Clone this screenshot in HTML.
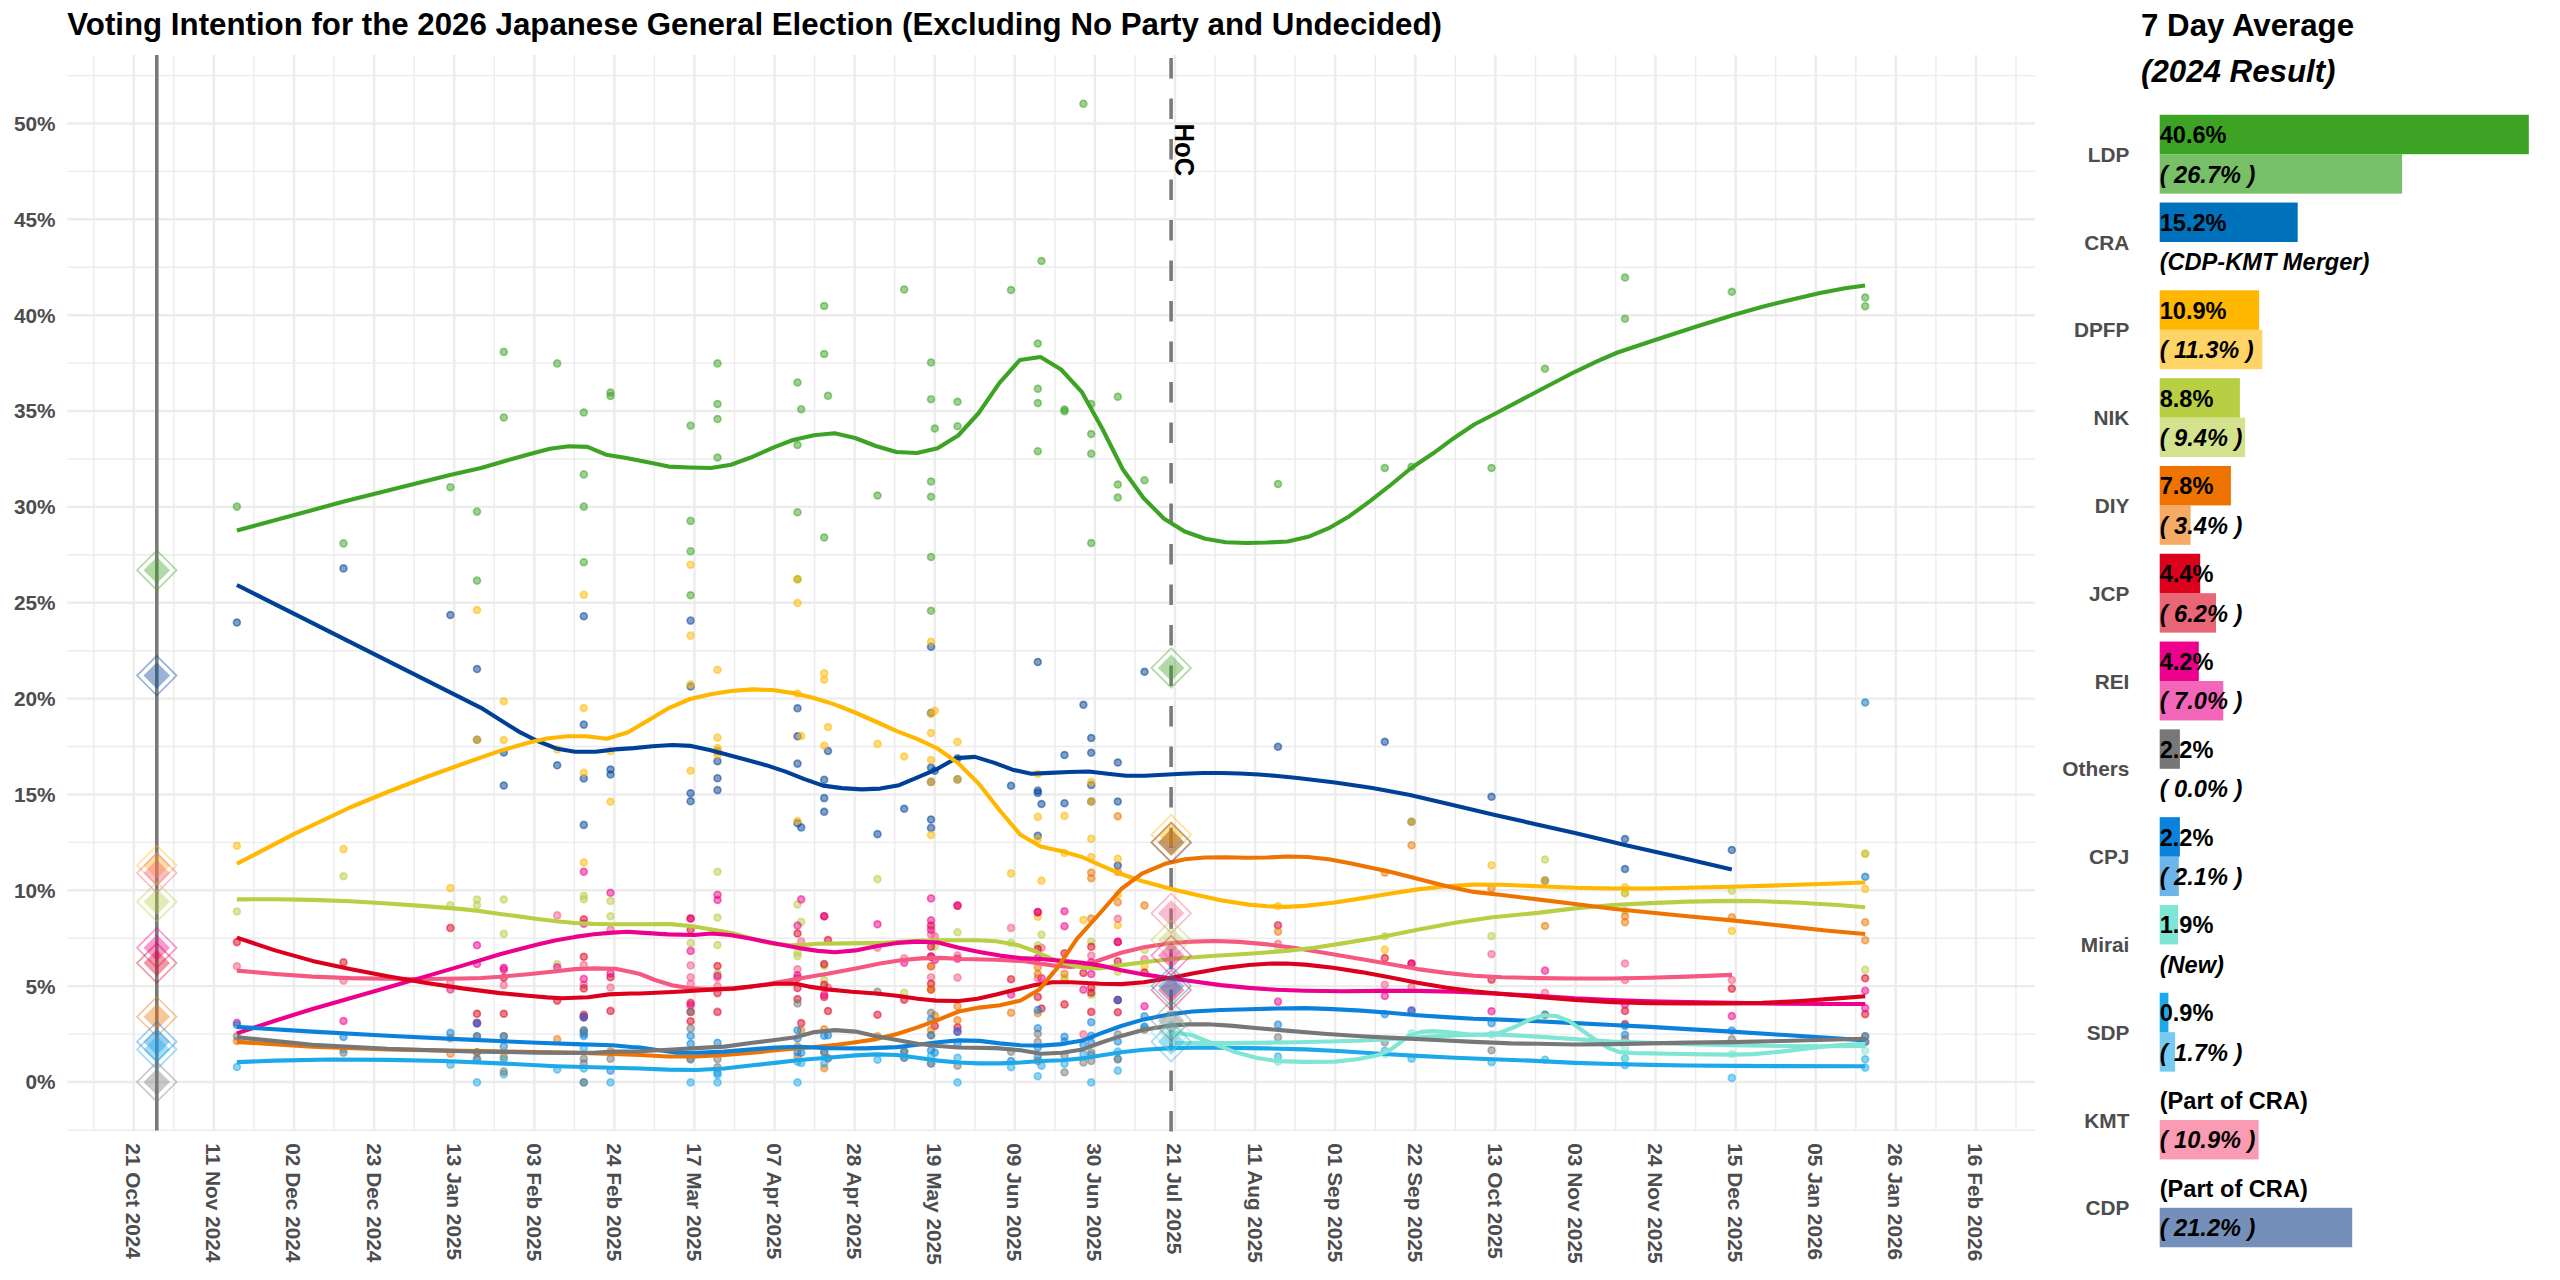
<!DOCTYPE html>
<html lang="en"><head><meta charset="utf-8"><title>Voting Intention for the 2026 Japanese General Election</title>
<style>html,body{margin:0;padding:0;background:#fff}body{width:2560px;height:1280px;overflow:hidden}svg{display:block}</style></head>
<body>
<svg width="2560" height="1280" viewBox="0 0 2560 1280" font-family="'Liberation Sans', Arial, sans-serif" font-weight="bold">
<rect width="2560" height="1280" fill="#fff"/>
<g stroke="#ececec" fill="none">
<g stroke-width="1.4">
<path d="M93.8 55V1130.6"/>
<path d="M173.8 55V1130.6"/>
<path d="M253.9 55V1130.6"/>
<path d="M334.0 55V1130.6"/>
<path d="M414.1 55V1130.6"/>
<path d="M494.2 55V1130.6"/>
<path d="M574.3 55V1130.6"/>
<path d="M654.4 55V1130.6"/>
<path d="M734.5 55V1130.6"/>
<path d="M814.6 55V1130.6"/>
<path d="M894.7 55V1130.6"/>
<path d="M974.8 55V1130.6"/>
<path d="M1054.9 55V1130.6"/>
<path d="M1135.0 55V1130.6"/>
<path d="M1215.1 55V1130.6"/>
<path d="M1295.2 55V1130.6"/>
<path d="M1375.3 55V1130.6"/>
<path d="M1455.4 55V1130.6"/>
<path d="M1535.5 55V1130.6"/>
<path d="M1615.6 55V1130.6"/>
<path d="M1695.7 55V1130.6"/>
<path d="M1775.7 55V1130.6"/>
<path d="M1855.8 55V1130.6"/>
<path d="M1935.9 55V1130.6"/>
<path d="M2016.0 55V1130.6"/>
<path d="M67.3 1130.3H2035"/>
<path d="M67.3 1034.1H2035"/>
<path d="M67.3 938.2H2035"/>
<path d="M67.3 842.4H2035"/>
<path d="M67.3 746.5H2035"/>
<path d="M67.3 650.7H2035"/>
<path d="M67.3 554.8H2035"/>
<path d="M67.3 459.0H2035"/>
<path d="M67.3 363.1H2035"/>
<path d="M67.3 267.3H2035"/>
<path d="M67.3 171.4H2035"/>
<path d="M67.3 75.6H2035"/>
</g><g stroke-width="2.4">
<path d="M133.8 55V1130.6"/>
<path d="M213.9 55V1130.6"/>
<path d="M294.0 55V1130.6"/>
<path d="M374.1 55V1130.6"/>
<path d="M454.2 55V1130.6"/>
<path d="M534.3 55V1130.6"/>
<path d="M614.4 55V1130.6"/>
<path d="M694.5 55V1130.6"/>
<path d="M774.6 55V1130.6"/>
<path d="M854.7 55V1130.6"/>
<path d="M934.8 55V1130.6"/>
<path d="M1014.8 55V1130.6"/>
<path d="M1094.9 55V1130.6"/>
<path d="M1175.0 55V1130.6"/>
<path d="M1255.1 55V1130.6"/>
<path d="M1335.2 55V1130.6"/>
<path d="M1415.3 55V1130.6"/>
<path d="M1495.4 55V1130.6"/>
<path d="M1575.5 55V1130.6"/>
<path d="M1655.6 55V1130.6"/>
<path d="M1735.7 55V1130.6"/>
<path d="M1815.8 55V1130.6"/>
<path d="M1895.9 55V1130.6"/>
<path d="M1976.0 55V1130.6"/>
<path d="M67.3 1082.0H2035"/>
<path d="M67.3 986.1H2035"/>
<path d="M67.3 890.3H2035"/>
<path d="M67.3 794.5H2035"/>
<path d="M67.3 698.6H2035"/>
<path d="M67.3 602.8H2035"/>
<path d="M67.3 506.9H2035"/>
<path d="M67.3 411.0H2035"/>
<path d="M67.3 315.2H2035"/>
<path d="M67.3 219.3H2035"/>
<path d="M67.3 123.5H2035"/>
</g></g>
<path d="M156.8 55V1130.6" stroke="#7a7a7a" stroke-width="3.6" fill="none"/>
<path d="M1171.1 1131.6V55" stroke="#7a7a7a" stroke-width="3.6" stroke-dasharray="20.5 20" fill="none"/>
<g stroke-width="1.7">
<g fill="#3CA324" stroke="#3CA324" fill-opacity="0.5" stroke-opacity="0.5">
<circle cx="236.9" cy="506.6" r="3.45"/>
<circle cx="343.5" cy="543.4" r="3.45"/>
<circle cx="450.4" cy="487.2" r="3.45"/>
<circle cx="477.0" cy="511.6" r="3.45"/>
<circle cx="477.0" cy="580.6" r="3.45"/>
<circle cx="503.8" cy="351.9" r="3.45"/>
<circle cx="503.8" cy="417.5" r="3.45"/>
<circle cx="557.2" cy="363.4" r="3.45"/>
<circle cx="583.8" cy="412.5" r="3.45"/>
<circle cx="583.8" cy="474.4" r="3.45"/>
<circle cx="583.8" cy="506.6" r="3.45"/>
<circle cx="583.8" cy="562.2" r="3.45"/>
<circle cx="610.5" cy="392.5" r="3.45"/>
<circle cx="610.5" cy="396.0" r="3.45"/>
<circle cx="690.6" cy="425.6" r="3.45"/>
<circle cx="690.6" cy="520.9" r="3.45"/>
<circle cx="690.6" cy="551.2" r="3.45"/>
<circle cx="690.6" cy="595.3" r="3.45"/>
<circle cx="717.5" cy="363.4" r="3.45"/>
<circle cx="717.5" cy="404.0" r="3.45"/>
<circle cx="717.5" cy="419.0" r="3.45"/>
<circle cx="717.5" cy="457.5" r="3.45"/>
<circle cx="797.5" cy="382.5" r="3.45"/>
<circle cx="797.5" cy="445.0" r="3.45"/>
<circle cx="797.5" cy="512.2" r="3.45"/>
<circle cx="797.5" cy="579.2" r="3.45"/>
<circle cx="801.2" cy="409.2" r="3.45"/>
<circle cx="824.2" cy="306.0" r="3.45"/>
<circle cx="824.2" cy="354.0" r="3.45"/>
<circle cx="824.2" cy="537.5" r="3.45"/>
<circle cx="828.0" cy="395.8" r="3.45"/>
<circle cx="877.5" cy="495.5" r="3.45"/>
<circle cx="904.2" cy="289.5" r="3.45"/>
<circle cx="931.0" cy="362.5" r="3.45"/>
<circle cx="931.0" cy="399.2" r="3.45"/>
<circle cx="931.0" cy="481.5" r="3.45"/>
<circle cx="931.0" cy="496.8" r="3.45"/>
<circle cx="931.0" cy="557.0" r="3.45"/>
<circle cx="931.0" cy="610.8" r="3.45"/>
<circle cx="934.8" cy="428.5" r="3.45"/>
<circle cx="957.5" cy="401.8" r="3.45"/>
<circle cx="957.5" cy="426.2" r="3.45"/>
<circle cx="1011.0" cy="290.0" r="3.45"/>
<circle cx="1037.8" cy="343.5" r="3.45"/>
<circle cx="1037.8" cy="388.8" r="3.45"/>
<circle cx="1037.8" cy="403.0" r="3.45"/>
<circle cx="1037.8" cy="451.2" r="3.45"/>
<circle cx="1041.5" cy="261.0" r="3.45"/>
<circle cx="1064.5" cy="409.5" r="3.45"/>
<circle cx="1064.5" cy="411.2" r="3.45"/>
<circle cx="1083.4" cy="103.8" r="3.45"/>
<circle cx="1091.2" cy="404.0" r="3.45"/>
<circle cx="1091.2" cy="434.0" r="3.45"/>
<circle cx="1091.2" cy="453.8" r="3.45"/>
<circle cx="1091.2" cy="543.0" r="3.45"/>
<circle cx="1117.8" cy="396.8" r="3.45"/>
<circle cx="1117.8" cy="484.5" r="3.45"/>
<circle cx="1117.8" cy="497.5" r="3.45"/>
<circle cx="1144.5" cy="480.2" r="3.45"/>
<circle cx="1278.0" cy="484.0" r="3.45"/>
<circle cx="1384.8" cy="468.0" r="3.45"/>
<circle cx="1411.5" cy="466.8" r="3.45"/>
<circle cx="1491.5" cy="468.0" r="3.45"/>
<circle cx="1545.0" cy="368.8" r="3.45"/>
<circle cx="1625.0" cy="277.5" r="3.45"/>
<circle cx="1625.0" cy="318.8" r="3.45"/>
<circle cx="1731.8" cy="291.8" r="3.45"/>
<circle cx="1865.2" cy="297.5" r="3.45"/>
<circle cx="1865.2" cy="306.2" r="3.45"/>
</g>
<g fill="#004098" stroke="#004098" fill-opacity="0.5" stroke-opacity="0.5">
<circle cx="236.9" cy="622.5" r="3.45"/>
<circle cx="343.5" cy="568.4" r="3.45"/>
<circle cx="450.4" cy="615.0" r="3.45"/>
<circle cx="477.0" cy="669.0" r="3.45"/>
<circle cx="477.0" cy="739.7" r="3.45"/>
<circle cx="503.8" cy="752.5" r="3.45"/>
<circle cx="503.8" cy="785.5" r="3.45"/>
<circle cx="557.2" cy="765.3" r="3.45"/>
<circle cx="583.8" cy="616.2" r="3.45"/>
<circle cx="583.8" cy="724.6" r="3.45"/>
<circle cx="583.8" cy="778.4" r="3.45"/>
<circle cx="583.8" cy="824.9" r="3.45"/>
<circle cx="610.5" cy="769.5" r="3.45"/>
<circle cx="610.5" cy="774.5" r="3.45"/>
<circle cx="690.6" cy="620.6" r="3.45"/>
<circle cx="690.6" cy="686.4" r="3.45"/>
<circle cx="690.6" cy="793.3" r="3.45"/>
<circle cx="690.6" cy="801.3" r="3.45"/>
<circle cx="717.5" cy="751.3" r="3.45"/>
<circle cx="717.5" cy="761.2" r="3.45"/>
<circle cx="717.5" cy="778.2" r="3.45"/>
<circle cx="717.5" cy="790.1" r="3.45"/>
<circle cx="797.5" cy="708.3" r="3.45"/>
<circle cx="797.5" cy="736.3" r="3.45"/>
<circle cx="797.5" cy="763.6" r="3.45"/>
<circle cx="797.5" cy="823.1" r="3.45"/>
<circle cx="801.2" cy="827.4" r="3.45"/>
<circle cx="824.2" cy="779.8" r="3.45"/>
<circle cx="824.2" cy="798.1" r="3.45"/>
<circle cx="824.2" cy="811.8" r="3.45"/>
<circle cx="828.0" cy="751.0" r="3.45"/>
<circle cx="877.5" cy="834.1" r="3.45"/>
<circle cx="904.2" cy="808.8" r="3.45"/>
<circle cx="931.0" cy="646.8" r="3.45"/>
<circle cx="931.0" cy="713.0" r="3.45"/>
<circle cx="931.0" cy="767.6" r="3.45"/>
<circle cx="931.0" cy="781.9" r="3.45"/>
<circle cx="931.0" cy="819.5" r="3.45"/>
<circle cx="931.0" cy="827.9" r="3.45"/>
<circle cx="934.8" cy="770.7" r="3.45"/>
<circle cx="957.5" cy="758.4" r="3.45"/>
<circle cx="957.5" cy="779.4" r="3.45"/>
<circle cx="1011.0" cy="785.8" r="3.45"/>
<circle cx="1037.8" cy="662.0" r="3.45"/>
<circle cx="1037.8" cy="790.6" r="3.45"/>
<circle cx="1037.8" cy="792.9" r="3.45"/>
<circle cx="1037.8" cy="835.7" r="3.45"/>
<circle cx="1041.5" cy="804.0" r="3.45"/>
<circle cx="1064.5" cy="755.0" r="3.45"/>
<circle cx="1064.5" cy="803.2" r="3.45"/>
<circle cx="1083.4" cy="704.8" r="3.45"/>
<circle cx="1091.2" cy="738.0" r="3.45"/>
<circle cx="1091.2" cy="752.8" r="3.45"/>
<circle cx="1091.2" cy="785.0" r="3.45"/>
<circle cx="1091.2" cy="801.5" r="3.45"/>
<circle cx="1117.8" cy="762.5" r="3.45"/>
<circle cx="1117.8" cy="801.5" r="3.45"/>
<circle cx="1117.8" cy="865.5" r="3.45"/>
<circle cx="1144.5" cy="671.8" r="3.45"/>
<circle cx="1278.0" cy="746.8" r="3.45"/>
<circle cx="1384.8" cy="741.8" r="3.45"/>
<circle cx="1411.5" cy="821.8" r="3.45"/>
<circle cx="1491.5" cy="796.8" r="3.45"/>
<circle cx="1545.0" cy="880.6" r="3.45"/>
<circle cx="1625.0" cy="839.0" r="3.45"/>
<circle cx="1625.0" cy="869.0" r="3.45"/>
<circle cx="1731.8" cy="850.0" r="3.45"/>
</g>
<g fill="#0072BC" stroke="#0072BC" fill-opacity="0.5" stroke-opacity="0.5">
<circle cx="1865.2" cy="702.5" r="3.45"/>
<circle cx="1865.2" cy="876.8" r="3.45"/>
</g>
<g fill="#FFB700" stroke="#FFB700" fill-opacity="0.5" stroke-opacity="0.5">
<circle cx="236.9" cy="845.8" r="3.45"/>
<circle cx="343.5" cy="849.1" r="3.45"/>
<circle cx="450.4" cy="888.1" r="3.45"/>
<circle cx="477.0" cy="610.0" r="3.45"/>
<circle cx="477.0" cy="739.7" r="3.45"/>
<circle cx="503.8" cy="701.2" r="3.45"/>
<circle cx="503.8" cy="740.0" r="3.45"/>
<circle cx="557.2" cy="749.4" r="3.45"/>
<circle cx="583.8" cy="594.7" r="3.45"/>
<circle cx="583.8" cy="708.1" r="3.45"/>
<circle cx="583.8" cy="772.7" r="3.45"/>
<circle cx="583.8" cy="862.5" r="3.45"/>
<circle cx="610.5" cy="751.1" r="3.45"/>
<circle cx="610.5" cy="801.8" r="3.45"/>
<circle cx="690.6" cy="564.7" r="3.45"/>
<circle cx="690.6" cy="635.6" r="3.45"/>
<circle cx="690.6" cy="684.4" r="3.45"/>
<circle cx="690.6" cy="770.8" r="3.45"/>
<circle cx="717.5" cy="669.7" r="3.45"/>
<circle cx="717.5" cy="737.6" r="3.45"/>
<circle cx="717.5" cy="748.0" r="3.45"/>
<circle cx="717.5" cy="751.3" r="3.45"/>
<circle cx="717.5" cy="755.0" r="3.45"/>
<circle cx="797.5" cy="579.2" r="3.45"/>
<circle cx="797.5" cy="603.0" r="3.45"/>
<circle cx="797.5" cy="693.5" r="3.45"/>
<circle cx="797.5" cy="820.9" r="3.45"/>
<circle cx="801.2" cy="736.0" r="3.45"/>
<circle cx="824.2" cy="673.4" r="3.45"/>
<circle cx="824.2" cy="679.8" r="3.45"/>
<circle cx="824.2" cy="745.6" r="3.45"/>
<circle cx="828.0" cy="727.0" r="3.45"/>
<circle cx="877.5" cy="743.9" r="3.45"/>
<circle cx="904.2" cy="756.5" r="3.45"/>
<circle cx="931.0" cy="641.8" r="3.45"/>
<circle cx="931.0" cy="714.0" r="3.45"/>
<circle cx="931.0" cy="733.0" r="3.45"/>
<circle cx="931.0" cy="760.0" r="3.45"/>
<circle cx="931.0" cy="781.9" r="3.45"/>
<circle cx="931.0" cy="835.0" r="3.45"/>
<circle cx="934.8" cy="710.7" r="3.45"/>
<circle cx="957.5" cy="741.9" r="3.45"/>
<circle cx="957.5" cy="779.4" r="3.45"/>
<circle cx="1011.0" cy="873.4" r="3.45"/>
<circle cx="1037.8" cy="774.0" r="3.45"/>
<circle cx="1037.8" cy="816.9" r="3.45"/>
<circle cx="1037.8" cy="839.1" r="3.45"/>
<circle cx="1037.8" cy="916.8" r="3.45"/>
<circle cx="1041.5" cy="880.6" r="3.45"/>
<circle cx="1064.5" cy="815.9" r="3.45"/>
<circle cx="1064.5" cy="853.0" r="3.45"/>
<circle cx="1064.5" cy="980.0" r="3.45"/>
<circle cx="1083.4" cy="920.0" r="3.45"/>
<circle cx="1091.2" cy="782.0" r="3.45"/>
<circle cx="1091.2" cy="801.5" r="3.45"/>
<circle cx="1091.2" cy="838.8" r="3.45"/>
<circle cx="1091.2" cy="857.0" r="3.45"/>
<circle cx="1117.8" cy="858.8" r="3.45"/>
<circle cx="1117.8" cy="894.7" r="3.45"/>
<circle cx="1117.8" cy="925.2" r="3.45"/>
<circle cx="1144.5" cy="966.5" r="3.45"/>
<circle cx="1278.0" cy="906.0" r="3.45"/>
<circle cx="1384.8" cy="949.6" r="3.45"/>
<circle cx="1411.5" cy="821.8" r="3.45"/>
<circle cx="1491.5" cy="865.2" r="3.45"/>
<circle cx="1545.0" cy="880.6" r="3.45"/>
<circle cx="1625.0" cy="887.2" r="3.45"/>
<circle cx="1625.0" cy="893.2" r="3.45"/>
<circle cx="1731.8" cy="930.9" r="3.45"/>
<circle cx="1865.2" cy="853.8" r="3.45"/>
<circle cx="1865.2" cy="889.0" r="3.45"/>
</g>
<g fill="#F55881" stroke="#F55881" fill-opacity="0.5" stroke-opacity="0.5">
<circle cx="236.9" cy="966.3" r="3.45"/>
<circle cx="343.5" cy="980.6" r="3.45"/>
<circle cx="450.4" cy="982.8" r="3.45"/>
<circle cx="503.8" cy="985.1" r="3.45"/>
<circle cx="557.2" cy="915.4" r="3.45"/>
<circle cx="583.8" cy="965.0" r="3.45"/>
<circle cx="583.8" cy="984.7" r="3.45"/>
<circle cx="610.5" cy="929.8" r="3.45"/>
<circle cx="610.5" cy="987.5" r="3.45"/>
<circle cx="690.6" cy="965.4" r="3.45"/>
<circle cx="690.6" cy="977.2" r="3.45"/>
<circle cx="690.6" cy="983.8" r="3.45"/>
<circle cx="717.5" cy="977.6" r="3.45"/>
<circle cx="717.5" cy="986.0" r="3.45"/>
<circle cx="797.5" cy="969.3" r="3.45"/>
<circle cx="801.2" cy="941.6" r="3.45"/>
<circle cx="828.0" cy="987.5" r="3.45"/>
<circle cx="877.5" cy="947.6" r="3.45"/>
<circle cx="904.2" cy="958.4" r="3.45"/>
<circle cx="931.0" cy="934.4" r="3.45"/>
<circle cx="931.0" cy="966.3" r="3.45"/>
<circle cx="931.0" cy="977.2" r="3.45"/>
<circle cx="934.8" cy="936.3" r="3.45"/>
<circle cx="957.5" cy="955.6" r="3.45"/>
<circle cx="957.5" cy="977.6" r="3.45"/>
<circle cx="1011.0" cy="927.9" r="3.45"/>
<circle cx="1037.8" cy="978.1" r="3.45"/>
<circle cx="1041.5" cy="947.8" r="3.45"/>
<circle cx="1083.4" cy="1034.4" r="3.45"/>
<circle cx="1091.2" cy="955.6" r="3.45"/>
<circle cx="1117.8" cy="918.8" r="3.45"/>
<circle cx="1144.5" cy="959.4" r="3.45"/>
<circle cx="1278.0" cy="943.8" r="3.45"/>
<circle cx="1384.8" cy="984.7" r="3.45"/>
<circle cx="1411.5" cy="987.1" r="3.45"/>
<circle cx="1491.5" cy="954.1" r="3.45"/>
<circle cx="1545.0" cy="992.8" r="3.45"/>
<circle cx="1625.0" cy="963.5" r="3.45"/>
<circle cx="1625.0" cy="980.0" r="3.45"/>
<circle cx="1731.8" cy="980.0" r="3.45"/>
</g>
<g fill="#B8CE43" stroke="#B8CE43" fill-opacity="0.5" stroke-opacity="0.5">
<circle cx="236.9" cy="911.5" r="3.45"/>
<circle cx="343.5" cy="876.3" r="3.45"/>
<circle cx="450.4" cy="905.2" r="3.45"/>
<circle cx="477.0" cy="899.5" r="3.45"/>
<circle cx="477.0" cy="905.1" r="3.45"/>
<circle cx="503.8" cy="899.5" r="3.45"/>
<circle cx="503.8" cy="933.9" r="3.45"/>
<circle cx="557.2" cy="964.1" r="3.45"/>
<circle cx="583.8" cy="895.8" r="3.45"/>
<circle cx="583.8" cy="899.2" r="3.45"/>
<circle cx="610.5" cy="901.0" r="3.45"/>
<circle cx="610.5" cy="916.3" r="3.45"/>
<circle cx="690.6" cy="943.0" r="3.45"/>
<circle cx="717.5" cy="871.7" r="3.45"/>
<circle cx="717.5" cy="917.6" r="3.45"/>
<circle cx="717.5" cy="945.0" r="3.45"/>
<circle cx="717.5" cy="973.4" r="3.45"/>
<circle cx="797.5" cy="904.4" r="3.45"/>
<circle cx="797.5" cy="952.8" r="3.45"/>
<circle cx="797.5" cy="956.2" r="3.45"/>
<circle cx="801.2" cy="921.9" r="3.45"/>
<circle cx="824.2" cy="966.0" r="3.45"/>
<circle cx="824.2" cy="980.0" r="3.45"/>
<circle cx="877.5" cy="879.1" r="3.45"/>
<circle cx="904.2" cy="992.8" r="3.45"/>
<circle cx="934.8" cy="946.2" r="3.45"/>
<circle cx="957.5" cy="932.2" r="3.45"/>
<circle cx="1011.0" cy="942.9" r="3.45"/>
<circle cx="1037.8" cy="945.3" r="3.45"/>
<circle cx="1041.5" cy="934.6" r="3.45"/>
<circle cx="1064.5" cy="978.1" r="3.45"/>
<circle cx="1091.2" cy="941.6" r="3.45"/>
<circle cx="1091.2" cy="995.0" r="3.45"/>
<circle cx="1117.8" cy="971.6" r="3.45"/>
<circle cx="1144.5" cy="950.0" r="3.45"/>
<circle cx="1278.0" cy="946.6" r="3.45"/>
<circle cx="1384.8" cy="936.3" r="3.45"/>
<circle cx="1491.5" cy="936.1" r="3.45"/>
<circle cx="1545.0" cy="859.5" r="3.45"/>
<circle cx="1625.0" cy="893.2" r="3.45"/>
<circle cx="1625.0" cy="910.6" r="3.45"/>
<circle cx="1731.8" cy="890.6" r="3.45"/>
<circle cx="1865.2" cy="853.8" r="3.45"/>
<circle cx="1865.2" cy="969.7" r="3.45"/>
</g>
<g fill="#DB001C" stroke="#DB001C" fill-opacity="0.5" stroke-opacity="0.5">
<circle cx="236.9" cy="942.1" r="3.45"/>
<circle cx="343.5" cy="962.2" r="3.45"/>
<circle cx="450.4" cy="927.9" r="3.45"/>
<circle cx="477.0" cy="1013.8" r="3.45"/>
<circle cx="503.8" cy="977.6" r="3.45"/>
<circle cx="503.8" cy="1013.8" r="3.45"/>
<circle cx="557.2" cy="1000.6" r="3.45"/>
<circle cx="583.8" cy="919.4" r="3.45"/>
<circle cx="583.8" cy="956.8" r="3.45"/>
<circle cx="583.8" cy="988.4" r="3.45"/>
<circle cx="583.8" cy="1014.7" r="3.45"/>
<circle cx="610.5" cy="977.2" r="3.45"/>
<circle cx="610.5" cy="1010.9" r="3.45"/>
<circle cx="690.6" cy="918.5" r="3.45"/>
<circle cx="690.6" cy="929.8" r="3.45"/>
<circle cx="690.6" cy="1002.9" r="3.45"/>
<circle cx="690.6" cy="1011.9" r="3.45"/>
<circle cx="690.6" cy="1021.2" r="3.45"/>
<circle cx="717.5" cy="966.0" r="3.45"/>
<circle cx="717.5" cy="993.1" r="3.45"/>
<circle cx="717.5" cy="1011.9" r="3.45"/>
<circle cx="797.5" cy="933.5" r="3.45"/>
<circle cx="797.5" cy="978.1" r="3.45"/>
<circle cx="797.5" cy="988.0" r="3.45"/>
<circle cx="797.5" cy="999.1" r="3.45"/>
<circle cx="801.2" cy="1023.1" r="3.45"/>
<circle cx="824.2" cy="916.2" r="3.45"/>
<circle cx="824.2" cy="964.0" r="3.45"/>
<circle cx="824.2" cy="984.7" r="3.45"/>
<circle cx="824.2" cy="996.9" r="3.45"/>
<circle cx="828.0" cy="940.0" r="3.45"/>
<circle cx="828.0" cy="1011.0" r="3.45"/>
<circle cx="877.5" cy="1014.7" r="3.45"/>
<circle cx="904.2" cy="999.7" r="3.45"/>
<circle cx="931.0" cy="925.6" r="3.45"/>
<circle cx="931.0" cy="946.6" r="3.45"/>
<circle cx="931.0" cy="956.6" r="3.45"/>
<circle cx="931.0" cy="983.8" r="3.45"/>
<circle cx="931.0" cy="989.4" r="3.45"/>
<circle cx="934.8" cy="1025.9" r="3.45"/>
<circle cx="957.5" cy="905.6" r="3.45"/>
<circle cx="957.5" cy="1027.4" r="3.45"/>
<circle cx="1011.0" cy="979.2" r="3.45"/>
<circle cx="1037.8" cy="912.1" r="3.45"/>
<circle cx="1037.8" cy="949.0" r="3.45"/>
<circle cx="1037.8" cy="996.9" r="3.45"/>
<circle cx="1041.5" cy="1008.5" r="3.45"/>
<circle cx="1064.5" cy="953.2" r="3.45"/>
<circle cx="1064.5" cy="1004.4" r="3.45"/>
<circle cx="1083.4" cy="973.0" r="3.45"/>
<circle cx="1091.2" cy="946.8" r="3.45"/>
<circle cx="1091.2" cy="987.5" r="3.45"/>
<circle cx="1091.2" cy="992.6" r="3.45"/>
<circle cx="1091.2" cy="1011.9" r="3.45"/>
<circle cx="1117.8" cy="941.9" r="3.45"/>
<circle cx="1117.8" cy="961.2" r="3.45"/>
<circle cx="1117.8" cy="1012.2" r="3.45"/>
<circle cx="1144.5" cy="972.5" r="3.45"/>
<circle cx="1278.0" cy="925.2" r="3.45"/>
<circle cx="1384.8" cy="958.0" r="3.45"/>
<circle cx="1411.5" cy="963.5" r="3.45"/>
<circle cx="1491.5" cy="979.6" r="3.45"/>
<circle cx="1625.0" cy="1010.9" r="3.45"/>
<circle cx="1625.0" cy="1024.1" r="3.45"/>
<circle cx="1731.8" cy="988.6" r="3.45"/>
<circle cx="1865.2" cy="978.3" r="3.45"/>
<circle cx="1865.2" cy="1014.1" r="3.45"/>
<circle cx="477.0" cy="1023.1" r="3.45"/>
<circle cx="583.8" cy="1017.1" r="3.45"/>
<circle cx="1117.8" cy="1000.0" r="3.45"/>
</g>
<g fill="#ED008C" stroke="#ED008C" fill-opacity="0.5" stroke-opacity="0.5">
<circle cx="236.9" cy="1022.8" r="3.45"/>
<circle cx="343.5" cy="1021.0" r="3.45"/>
<circle cx="450.4" cy="989.4" r="3.45"/>
<circle cx="477.0" cy="945.3" r="3.45"/>
<circle cx="477.0" cy="964.0" r="3.45"/>
<circle cx="503.8" cy="967.8" r="3.45"/>
<circle cx="503.8" cy="969.7" r="3.45"/>
<circle cx="557.2" cy="967.2" r="3.45"/>
<circle cx="583.8" cy="871.8" r="3.45"/>
<circle cx="583.8" cy="923.8" r="3.45"/>
<circle cx="583.8" cy="978.9" r="3.45"/>
<circle cx="610.5" cy="892.8" r="3.45"/>
<circle cx="610.5" cy="973.4" r="3.45"/>
<circle cx="690.6" cy="918.5" r="3.45"/>
<circle cx="690.6" cy="950.9" r="3.45"/>
<circle cx="690.6" cy="1005.3" r="3.45"/>
<circle cx="717.5" cy="894.7" r="3.45"/>
<circle cx="717.5" cy="900.0" r="3.45"/>
<circle cx="717.5" cy="975.7" r="3.45"/>
<circle cx="797.5" cy="925.6" r="3.45"/>
<circle cx="797.5" cy="975.3" r="3.45"/>
<circle cx="801.2" cy="899.4" r="3.45"/>
<circle cx="824.2" cy="916.2" r="3.45"/>
<circle cx="824.2" cy="994.6" r="3.45"/>
<circle cx="877.5" cy="924.3" r="3.45"/>
<circle cx="904.2" cy="962.8" r="3.45"/>
<circle cx="931.0" cy="898.4" r="3.45"/>
<circle cx="931.0" cy="920.4" r="3.45"/>
<circle cx="931.0" cy="929.8" r="3.45"/>
<circle cx="931.0" cy="956.6" r="3.45"/>
<circle cx="934.8" cy="960.0" r="3.45"/>
<circle cx="957.5" cy="905.6" r="3.45"/>
<circle cx="957.5" cy="958.8" r="3.45"/>
<circle cx="1011.0" cy="994.4" r="3.45"/>
<circle cx="1037.8" cy="912.1" r="3.45"/>
<circle cx="1037.8" cy="957.9" r="3.45"/>
<circle cx="1041.5" cy="978.1" r="3.45"/>
<circle cx="1064.5" cy="911.2" r="3.45"/>
<circle cx="1064.5" cy="926.2" r="3.45"/>
<circle cx="1083.4" cy="989.8" r="3.45"/>
<circle cx="1091.2" cy="962.2" r="3.45"/>
<circle cx="1091.2" cy="974.0" r="3.45"/>
<circle cx="1117.8" cy="941.9" r="3.45"/>
<circle cx="1117.8" cy="1000.0" r="3.45"/>
<circle cx="1144.5" cy="1006.2" r="3.45"/>
<circle cx="1278.0" cy="1001.6" r="3.45"/>
<circle cx="1384.8" cy="996.0" r="3.45"/>
<circle cx="1411.5" cy="963.5" r="3.45"/>
<circle cx="1491.5" cy="1011.3" r="3.45"/>
<circle cx="1545.0" cy="970.6" r="3.45"/>
<circle cx="1625.0" cy="1004.8" r="3.45"/>
<circle cx="1731.8" cy="1016.0" r="3.45"/>
<circle cx="1865.2" cy="990.7" r="3.45"/>
<circle cx="1865.2" cy="1008.1" r="3.45"/>
<circle cx="477.0" cy="1023.1" r="3.45"/>
<circle cx="583.8" cy="1017.1" r="3.45"/>
<circle cx="957.5" cy="1031.6" r="3.45"/>
<circle cx="1411.5" cy="1010.6" r="3.45"/>
</g>
<g fill="#EE7300" stroke="#EE7300" fill-opacity="0.5" stroke-opacity="0.5">
<circle cx="236.9" cy="1041.0" r="3.45"/>
<circle cx="450.4" cy="1053.7" r="3.45"/>
<circle cx="477.0" cy="1052.2" r="3.45"/>
<circle cx="503.8" cy="1056.9" r="3.45"/>
<circle cx="557.2" cy="1039.2" r="3.45"/>
<circle cx="610.5" cy="1051.2" r="3.45"/>
<circle cx="797.5" cy="1046.6" r="3.45"/>
<circle cx="797.5" cy="1056.5" r="3.45"/>
<circle cx="801.2" cy="1030.2" r="3.45"/>
<circle cx="824.2" cy="1029.3" r="3.45"/>
<circle cx="824.2" cy="1068.1" r="3.45"/>
<circle cx="877.5" cy="1036.2" r="3.45"/>
<circle cx="931.0" cy="966.3" r="3.45"/>
<circle cx="931.0" cy="989.4" r="3.45"/>
<circle cx="931.0" cy="1029.7" r="3.45"/>
<circle cx="934.8" cy="1015.6" r="3.45"/>
<circle cx="957.5" cy="1006.2" r="3.45"/>
<circle cx="957.5" cy="1020.3" r="3.45"/>
<circle cx="1011.0" cy="1012.8" r="3.45"/>
<circle cx="1037.8" cy="967.2" r="3.45"/>
<circle cx="1037.8" cy="974.0" r="3.45"/>
<circle cx="1037.8" cy="1013.2" r="3.45"/>
<circle cx="1064.5" cy="973.8" r="3.45"/>
<circle cx="1091.2" cy="872.6" r="3.45"/>
<circle cx="1091.2" cy="878.2" r="3.45"/>
<circle cx="1091.2" cy="918.5" r="3.45"/>
<circle cx="1117.8" cy="816.2" r="3.45"/>
<circle cx="1117.8" cy="871.9" r="3.45"/>
<circle cx="1117.8" cy="902.2" r="3.45"/>
<circle cx="1144.5" cy="905.4" r="3.45"/>
<circle cx="1278.0" cy="931.6" r="3.45"/>
<circle cx="1384.8" cy="872.6" r="3.45"/>
<circle cx="1411.5" cy="845.2" r="3.45"/>
<circle cx="1491.5" cy="888.5" r="3.45"/>
<circle cx="1545.0" cy="926.0" r="3.45"/>
<circle cx="1625.0" cy="916.2" r="3.45"/>
<circle cx="1625.0" cy="922.2" r="3.45"/>
<circle cx="1731.8" cy="917.2" r="3.45"/>
<circle cx="1865.2" cy="922.2" r="3.45"/>
<circle cx="1865.2" cy="940.2" r="3.45"/>
</g>
<g fill="#0A82DC" stroke="#0A82DC" fill-opacity="0.5" stroke-opacity="0.5">
<circle cx="236.9" cy="1025.0" r="3.45"/>
<circle cx="343.5" cy="1037.0" r="3.45"/>
<circle cx="450.4" cy="1032.9" r="3.45"/>
<circle cx="477.0" cy="1023.1" r="3.45"/>
<circle cx="477.0" cy="1036.2" r="3.45"/>
<circle cx="503.8" cy="1036.2" r="3.45"/>
<circle cx="503.8" cy="1046.4" r="3.45"/>
<circle cx="583.8" cy="1017.1" r="3.45"/>
<circle cx="583.8" cy="1030.6" r="3.45"/>
<circle cx="583.8" cy="1033.4" r="3.45"/>
<circle cx="583.8" cy="1035.9" r="3.45"/>
<circle cx="610.5" cy="1070.6" r="3.45"/>
<circle cx="690.6" cy="1035.7" r="3.45"/>
<circle cx="690.6" cy="1043.8" r="3.45"/>
<circle cx="717.5" cy="1042.8" r="3.45"/>
<circle cx="717.5" cy="1072.8" r="3.45"/>
<circle cx="797.5" cy="1030.2" r="3.45"/>
<circle cx="797.5" cy="1038.5" r="3.45"/>
<circle cx="797.5" cy="1052.2" r="3.45"/>
<circle cx="801.2" cy="1052.8" r="3.45"/>
<circle cx="824.2" cy="1035.7" r="3.45"/>
<circle cx="824.2" cy="1052.2" r="3.45"/>
<circle cx="828.0" cy="1035.3" r="3.45"/>
<circle cx="904.2" cy="1051.6" r="3.45"/>
<circle cx="931.0" cy="1019.4" r="3.45"/>
<circle cx="931.0" cy="1035.3" r="3.45"/>
<circle cx="931.0" cy="1050.3" r="3.45"/>
<circle cx="934.8" cy="1052.6" r="3.45"/>
<circle cx="957.5" cy="1031.6" r="3.45"/>
<circle cx="957.5" cy="1043.8" r="3.45"/>
<circle cx="1011.0" cy="1061.0" r="3.45"/>
<circle cx="1037.8" cy="1010.0" r="3.45"/>
<circle cx="1037.8" cy="1028.2" r="3.45"/>
<circle cx="1037.8" cy="1047.5" r="3.45"/>
<circle cx="1037.8" cy="1057.2" r="3.45"/>
<circle cx="1064.5" cy="1036.8" r="3.45"/>
<circle cx="1064.5" cy="1041.5" r="3.45"/>
<circle cx="1083.4" cy="1044.7" r="3.45"/>
<circle cx="1091.2" cy="1022.2" r="3.45"/>
<circle cx="1091.2" cy="1035.7" r="3.45"/>
<circle cx="1091.2" cy="1042.8" r="3.45"/>
<circle cx="1117.8" cy="1000.0" r="3.45"/>
<circle cx="1117.8" cy="1041.5" r="3.45"/>
<circle cx="1144.5" cy="1016.2" r="3.45"/>
<circle cx="1144.5" cy="1026.9" r="3.45"/>
<circle cx="1278.0" cy="1024.6" r="3.45"/>
<circle cx="1384.8" cy="1014.1" r="3.45"/>
<circle cx="1411.5" cy="1010.6" r="3.45"/>
<circle cx="1491.5" cy="1023.1" r="3.45"/>
<circle cx="1545.0" cy="1014.7" r="3.45"/>
<circle cx="1625.0" cy="1025.9" r="3.45"/>
<circle cx="1625.0" cy="1034.8" r="3.45"/>
<circle cx="1731.8" cy="1030.6" r="3.45"/>
<circle cx="1865.2" cy="1036.2" r="3.45"/>
<circle cx="1865.2" cy="1041.9" r="3.45"/>
</g>
<g fill="#1CA9E9" stroke="#1CA9E9" fill-opacity="0.5" stroke-opacity="0.5">
<circle cx="236.9" cy="1067.0" r="3.45"/>
<circle cx="343.5" cy="1049.4" r="3.45"/>
<circle cx="450.4" cy="1064.8" r="3.45"/>
<circle cx="477.0" cy="1059.1" r="3.45"/>
<circle cx="477.0" cy="1082.4" r="3.45"/>
<circle cx="503.8" cy="1059.1" r="3.45"/>
<circle cx="503.8" cy="1074.3" r="3.45"/>
<circle cx="557.2" cy="1069.4" r="3.45"/>
<circle cx="583.8" cy="1048.1" r="3.45"/>
<circle cx="583.8" cy="1068.5" r="3.45"/>
<circle cx="583.8" cy="1082.4" r="3.45"/>
<circle cx="610.5" cy="1082.4" r="3.45"/>
<circle cx="690.6" cy="1059.1" r="3.45"/>
<circle cx="690.6" cy="1082.4" r="3.45"/>
<circle cx="717.5" cy="1074.7" r="3.45"/>
<circle cx="717.5" cy="1082.4" r="3.45"/>
<circle cx="797.5" cy="1061.6" r="3.45"/>
<circle cx="797.5" cy="1082.4" r="3.45"/>
<circle cx="801.2" cy="1062.9" r="3.45"/>
<circle cx="824.2" cy="1063.4" r="3.45"/>
<circle cx="828.0" cy="1058.2" r="3.45"/>
<circle cx="877.5" cy="1059.7" r="3.45"/>
<circle cx="904.2" cy="1057.8" r="3.45"/>
<circle cx="931.0" cy="1055.9" r="3.45"/>
<circle cx="931.0" cy="1063.4" r="3.45"/>
<circle cx="957.5" cy="1057.8" r="3.45"/>
<circle cx="957.5" cy="1082.4" r="3.45"/>
<circle cx="1011.0" cy="1067.2" r="3.45"/>
<circle cx="1037.8" cy="1076.2" r="3.45"/>
<circle cx="1041.5" cy="1065.7" r="3.45"/>
<circle cx="1064.5" cy="1063.8" r="3.45"/>
<circle cx="1083.4" cy="1054.0" r="3.45"/>
<circle cx="1091.2" cy="1055.0" r="3.45"/>
<circle cx="1091.2" cy="1082.4" r="3.45"/>
<circle cx="1117.8" cy="1051.6" r="3.45"/>
<circle cx="1117.8" cy="1059.1" r="3.45"/>
<circle cx="1117.8" cy="1070.6" r="3.45"/>
<circle cx="1144.5" cy="1026.9" r="3.45"/>
<circle cx="1278.0" cy="1056.5" r="3.45"/>
<circle cx="1384.8" cy="1050.7" r="3.45"/>
<circle cx="1411.5" cy="1058.8" r="3.45"/>
<circle cx="1491.5" cy="1062.1" r="3.45"/>
<circle cx="1545.0" cy="1059.7" r="3.45"/>
<circle cx="1625.0" cy="1058.4" r="3.45"/>
<circle cx="1625.0" cy="1065.3" r="3.45"/>
<circle cx="1731.8" cy="1077.9" r="3.45"/>
<circle cx="1865.2" cy="1059.3" r="3.45"/>
<circle cx="1865.2" cy="1067.6" r="3.45"/>
</g>
<g fill="#7FE5D4" stroke="#7FE5D4" fill-opacity="0.5" stroke-opacity="0.5">
<circle cx="1278.0" cy="1061.6" r="3.45"/>
<circle cx="1384.8" cy="1054.0" r="3.45"/>
<circle cx="1411.5" cy="1033.4" r="3.45"/>
<circle cx="1491.5" cy="1034.4" r="3.45"/>
<circle cx="1545.0" cy="1014.7" r="3.45"/>
<circle cx="1625.0" cy="1048.1" r="3.45"/>
<circle cx="1625.0" cy="1058.4" r="3.45"/>
<circle cx="1731.8" cy="1054.0" r="3.45"/>
<circle cx="1865.2" cy="1050.7" r="3.45"/>
</g>
<g fill="#777777" stroke="#777777" fill-opacity="0.5" stroke-opacity="0.5">
<circle cx="236.9" cy="1036.2" r="3.45"/>
<circle cx="343.5" cy="1052.8" r="3.45"/>
<circle cx="450.4" cy="1038.1" r="3.45"/>
<circle cx="477.0" cy="1036.2" r="3.45"/>
<circle cx="477.0" cy="1052.2" r="3.45"/>
<circle cx="477.0" cy="1059.1" r="3.45"/>
<circle cx="503.8" cy="1036.2" r="3.45"/>
<circle cx="503.8" cy="1071.5" r="3.45"/>
<circle cx="583.8" cy="1030.6" r="3.45"/>
<circle cx="583.8" cy="1058.8" r="3.45"/>
<circle cx="583.8" cy="1063.4" r="3.45"/>
<circle cx="583.8" cy="1082.4" r="3.45"/>
<circle cx="610.5" cy="1058.8" r="3.45"/>
<circle cx="690.6" cy="1011.9" r="3.45"/>
<circle cx="690.6" cy="1028.4" r="3.45"/>
<circle cx="690.6" cy="1059.1" r="3.45"/>
<circle cx="717.5" cy="1059.1" r="3.45"/>
<circle cx="717.5" cy="1067.2" r="3.45"/>
<circle cx="797.5" cy="1003.4" r="3.45"/>
<circle cx="824.2" cy="1052.2" r="3.45"/>
<circle cx="828.0" cy="1058.2" r="3.45"/>
<circle cx="877.5" cy="991.8" r="3.45"/>
<circle cx="904.2" cy="1051.6" r="3.45"/>
<circle cx="904.2" cy="1057.8" r="3.45"/>
<circle cx="931.0" cy="1012.8" r="3.45"/>
<circle cx="931.0" cy="1035.3" r="3.45"/>
<circle cx="931.0" cy="1063.4" r="3.45"/>
<circle cx="957.5" cy="1065.7" r="3.45"/>
<circle cx="1011.0" cy="1051.6" r="3.45"/>
<circle cx="1037.8" cy="1033.8" r="3.45"/>
<circle cx="1037.8" cy="1041.9" r="3.45"/>
<circle cx="1037.8" cy="1061.0" r="3.45"/>
<circle cx="1064.5" cy="1055.6" r="3.45"/>
<circle cx="1064.5" cy="1072.2" r="3.45"/>
<circle cx="1083.4" cy="1062.5" r="3.45"/>
<circle cx="1091.2" cy="1052.6" r="3.45"/>
<circle cx="1091.2" cy="1061.0" r="3.45"/>
<circle cx="1117.8" cy="1034.4" r="3.45"/>
<circle cx="1117.8" cy="1059.1" r="3.45"/>
<circle cx="1144.5" cy="1029.7" r="3.45"/>
<circle cx="1278.0" cy="1037.4" r="3.45"/>
<circle cx="1384.8" cy="1042.2" r="3.45"/>
<circle cx="1491.5" cy="1050.3" r="3.45"/>
<circle cx="1545.0" cy="1014.7" r="3.45"/>
<circle cx="1625.0" cy="1039.1" r="3.45"/>
<circle cx="1731.8" cy="1039.4" r="3.45"/>
<circle cx="1865.2" cy="1036.2" r="3.45"/>
<circle cx="1865.2" cy="1041.9" r="3.45"/>
</g>
</g>
<g fill="none" stroke-width="4.1" stroke-linejoin="round" stroke-linecap="butt">
<path d="M236.9 530.6L343.8 501.6L450.0 475.0L481.0 468.0L505.0 461.0L531.0 453.8L550.0 448.8L568.8 446.2L587.5 446.9L606.0 454.7L625.0 457.8L648.0 462.3L668.8 466.6L690.0 467.5L711.0 468.0L731.0 464.7L750.0 457.8L775.0 446.9L793.0 440.0L814.0 435.2L834.6 433.2L855.2 438.0L875.8 446.0L896.4 452.0L917.0 453.0L937.6 448.2L958.2 435.5L978.7 413.0L999.3 383.2L1019.9 360.0L1040.5 357.0L1061.1 369.5L1081.7 391.8L1102.3 428.8L1122.9 469.5L1143.5 498.0L1164.1 518.8L1184.7 531.5L1205.2 538.8L1225.8 542.2L1246.4 543.0L1267.0 542.5L1287.6 541.5L1308.2 536.8L1328.8 528.2L1349.4 516.2L1370.0 501.2L1390.6 485.0L1411.2 468.0L1432.5 453.8L1453.8 438.2L1474.2 424.5L1495.0 413.8L1536.2 392.0L1575.0 371.8L1597.5 361.2L1617.5 352.5L1655.0 340.0L1695.0 327.0L1735.0 314.5L1762.5 306.8L1790.0 300.0L1820.0 293.0L1845.0 288.2L1865.0 285.5" stroke="#3CA324"/>
<path d="M236.9 585.0L481.0 707.8L518.8 731.6L537.5 741.0L556.2 748.4L575.0 751.8L595.6 751.8L615.0 749.4L633.8 748.1L652.5 746.2L672.2 745.0L691.0 745.9L709.7 750.0L729.4 755.2L748.1 760.3L766.9 765.4L785.6 771.6L804.4 779.1L823.1 785.6L841.9 788.1L861.6 789.4L880.3 788.6L899.1 785.2L918.8 776.8L937.5 768.8L956.2 758.1L975.0 756.9L993.8 762.6L1012.5 769.7L1031.2 773.8L1050.0 772.9L1068.8 772.0L1088.8 771.5L1107.5 773.8L1126.2 775.8L1145.0 775.8L1163.8 774.8L1182.5 773.8L1202.5 773.0L1221.2 773.0L1240.0 773.5L1258.8 774.5L1277.5 776.0L1297.5 778.0L1335.0 782.5L1372.5 788.0L1410.0 795.0L1440.0 802.0L1495.0 815.0L1575.0 833.0L1625.0 845.0L1675.0 856.2L1731.8 869.5" stroke="#004098"/>
<path d="M236.9 863.8L293.8 834.1L350.0 807.5L387.5 792.0L425.0 777.5L462.5 764.0L500.0 750.9L528.0 742.8L547.0 738.5L567.5 736.2L586.2 736.2L607.0 738.7L628.1 732.2L648.8 720.0L669.4 707.8L690.0 699.0L710.6 694.3L731.2 691.0L752.0 689.4L772.5 690.0L795.0 693.4L813.8 698.0L834.4 704.4L855.0 712.5L875.6 721.5L896.2 730.9L917.0 738.8L937.5 748.5L958.1 763.1L978.8 783.8L999.4 810.0L1020.0 834.4L1040.6 846.6L1063.1 851.6L1082.0 857.0L1102.5 866.2L1122.5 874.5L1143.8 881.6L1171.3 889.0L1192.5 894.1L1220.6 900.3L1248.8 904.6L1267.5 906.3L1286.2 906.9L1305.0 905.9L1333.1 902.8L1361.2 898.4L1389.4 893.8L1417.5 889.4L1445.6 886.2L1473.8 884.6L1501.9 884.8L1537.5 886.2L1575.0 887.8L1612.5 888.5L1650.0 888.5L1687.5 887.8L1732.0 886.8L1781.2 885.3L1828.0 883.8L1865.2 882.5" stroke="#FFB700"/>
<path d="M236.9 970.6L275.0 974.0L312.5 976.6L350.0 978.1L387.5 978.7L425.0 979.0L462.5 978.5L481.2 978.0L500.0 976.8L528.0 974.2L556.2 971.2L575.0 969.1L593.8 968.4L615.3 968.8L631.2 972.1L640.0 974.0L655.0 980.0L671.9 985.2L688.8 988.1L711.2 989.4L733.8 989.0L752.5 986.6L775.0 982.8L799.4 978.5L827.5 973.8L855.6 968.4L880.0 963.5L902.5 960.0L921.2 958.4L940.0 957.9L962.5 959.0L996.2 959.8L1024.4 961.2L1052.5 965.4L1071.2 966.9L1085.0 965.0L1100.0 960.0L1121.2 952.8L1143.8 947.2L1171.3 943.0L1192.5 941.6L1215.0 941.0L1239.4 941.9L1267.5 944.4L1295.6 948.1L1323.8 952.8L1351.9 957.5L1383.8 963.1L1417.5 969.1L1445.6 972.9L1473.8 975.7L1501.9 977.2L1537.5 978.1L1575.0 978.5L1612.5 978.5L1650.0 977.8L1687.5 976.6L1732.0 974.9" stroke="#F55881"/>
<path d="M236.9 899.4L275.0 899.2L312.5 899.9L350.0 901.2L387.5 903.5L425.0 906.1L462.5 909.1L481.2 911.2L500.0 914.0L518.8 916.4L537.5 919.0L556.2 921.3L575.0 923.0L593.8 923.9L612.5 924.3L640.0 924.3L670.0 924.1L690.6 926.0L715.0 930.0L733.8 933.5L752.5 938.8L771.2 943.4L790.0 945.3L805.0 944.8L818.0 943.8L846.2 943.4L883.8 942.9L912.0 941.0L940.0 940.2L977.5 940.2L996.2 941.2L1018.8 945.3L1035.6 951.5L1052.5 959.0L1067.5 964.1L1082.5 967.8L1099.4 968.4L1117.5 965.6L1143.8 962.2L1171.3 959.0L1211.2 956.0L1248.8 953.8L1286.2 950.9L1314.4 947.8L1342.5 943.4L1383.8 936.5L1417.5 929.8L1455.0 922.8L1492.5 917.2L1537.5 912.9L1575.0 908.4L1612.5 905.0L1650.0 903.1L1687.5 901.6L1732.0 900.9L1762.5 901.2L1800.0 902.8L1837.5 905.0L1865.2 907.2" stroke="#B8CE43"/>
<path d="M236.9 1033.4L275.0 1020.7L312.5 1009.0L350.0 998.2L387.5 987.5L425.0 976.6L462.5 965.6L500.0 954.3L537.5 944.4L556.2 940.2L575.0 936.9L593.8 934.2L612.5 932.6L627.5 931.8L640.0 932.6L668.0 934.4L694.4 935.0L711.2 933.5L730.0 935.0L752.5 939.1L775.0 943.4L799.4 948.1L818.0 950.9L835.0 952.2L855.6 950.4L876.2 946.2L897.0 942.9L917.5 941.6L938.0 942.5L958.8 947.8L979.4 951.9L1000.0 955.6L1020.6 958.1L1041.2 959.0L1061.9 960.9L1082.5 962.8L1100.6 965.6L1121.2 970.2L1143.8 974.4L1171.3 978.5L1192.5 981.3L1220.6 985.1L1248.8 987.9L1276.9 989.8L1305.0 990.7L1342.5 991.2L1380.0 990.9L1417.5 990.9L1455.0 991.8L1492.5 993.4L1537.5 995.9L1575.0 998.4L1612.5 1000.0L1650.0 1001.2L1687.5 1002.1L1732.0 1002.9L1781.2 1003.6L1828.0 1004.0L1865.2 1004.0" stroke="#ED008C"/>
<path d="M236.9 937.6L275.0 950.4L312.5 960.9L350.0 969.1L387.5 976.2L425.0 982.8L462.5 988.4L500.0 993.1L528.0 995.8L547.0 997.4L562.0 998.2L575.0 997.8L588.0 997.2L608.8 994.4L631.2 993.5L640.0 993.5L677.5 991.8L715.0 989.4L733.8 988.4L752.5 986.2L775.0 983.8L795.6 983.8L808.8 986.6L827.5 989.4L851.9 991.8L876.2 993.5L898.8 996.0L917.5 998.8L936.2 1000.6L958.8 1001.0L977.5 998.8L996.2 994.6L1015.0 989.8L1033.8 985.2L1052.5 982.2L1071.2 982.2L1100.6 983.8L1121.2 984.1L1143.8 982.2L1171.3 977.8L1192.5 973.4L1220.6 968.4L1248.8 965.0L1267.5 963.7L1286.2 963.5L1305.0 964.6L1333.1 967.8L1361.2 972.1L1389.4 977.2L1417.5 982.8L1445.6 987.5L1473.8 991.2L1501.9 994.0L1537.5 996.9L1575.0 1000.0L1612.5 1002.1L1650.0 1003.1L1687.5 1003.4L1732.0 1003.4L1762.5 1002.9L1800.0 1001.0L1837.5 998.4L1865.2 996.3" stroke="#DB001C"/>
<path d="M236.9 1041.9L312.5 1046.6L387.5 1049.4L462.5 1050.9L537.5 1052.0L575.0 1052.8L612.5 1054.0L640.0 1055.0L668.0 1056.5L696.2 1056.5L724.4 1055.0L752.5 1052.8L780.6 1049.8L808.8 1047.5L836.9 1044.7L855.6 1042.2L876.2 1039.1L897.0 1034.0L917.5 1027.4L938.0 1019.8L958.8 1011.5L979.4 1007.6L1000.0 1005.3L1020.6 1000.6L1039.4 989.4L1058.1 966.9L1076.9 938.8L1100.6 912.5L1121.2 889.0L1141.9 873.7L1165.0 863.8L1185.0 859.2L1205.0 857.5L1225.0 857.2L1246.2 857.8L1267.5 857.5L1287.5 856.5L1307.5 857.0L1328.8 859.2L1350.0 863.2L1370.0 867.5L1390.0 871.8L1417.5 878.8L1445.6 885.9L1473.8 891.9L1501.9 895.0L1537.5 899.4L1575.0 904.0L1612.5 908.8L1650.0 912.5L1687.5 916.2L1732.0 920.4L1781.2 925.6L1828.0 930.7L1865.2 934.0" stroke="#EE7300"/>
<path d="M236.9 1026.9L312.5 1031.6L387.5 1035.7L462.5 1039.4L537.5 1042.8L575.0 1044.1L612.5 1045.2L631.2 1047.0L640.0 1047.5L658.8 1050.3L677.5 1052.6L696.2 1052.8L724.4 1051.6L752.5 1049.4L775.0 1047.5L799.4 1046.8L827.5 1048.1L865.0 1048.4L897.0 1047.1L917.5 1044.7L938.0 1042.2L958.8 1040.4L979.4 1040.9L1000.0 1043.4L1020.6 1045.2L1041.2 1045.6L1061.9 1044.1L1082.5 1040.6L1100.6 1033.4L1121.2 1026.0L1143.8 1019.4L1171.3 1014.1L1192.5 1011.5L1220.6 1010.0L1248.8 1009.2L1276.9 1008.5L1305.0 1008.1L1333.1 1009.1L1361.2 1010.6L1389.4 1012.8L1417.5 1015.2L1445.6 1017.1L1473.8 1018.8L1501.9 1019.6L1537.5 1021.2L1575.0 1023.1L1612.5 1025.0L1650.0 1026.9L1687.5 1029.1L1732.0 1031.6L1781.2 1034.8L1828.0 1037.8L1865.2 1040.4" stroke="#0A82DC"/>
<path d="M236.9 1062.1L275.0 1060.6L331.2 1059.5L387.5 1059.9L443.8 1061.0L500.0 1063.4L556.2 1066.2L612.5 1067.8L640.0 1068.5L668.0 1069.6L696.2 1070.0L724.4 1068.5L752.5 1065.3L775.0 1062.9L799.4 1060.0L827.5 1057.8L855.6 1055.4L876.2 1054.4L897.0 1055.0L917.5 1057.8L938.0 1060.6L958.8 1062.5L979.4 1063.4L1000.0 1063.4L1020.6 1062.5L1041.2 1061.0L1061.9 1060.2L1082.5 1058.4L1100.6 1055.4L1121.2 1052.2L1143.8 1049.8L1171.3 1048.1L1201.9 1047.5L1230.0 1047.9L1267.5 1048.4L1305.0 1049.4L1342.5 1051.2L1380.0 1053.7L1417.5 1055.9L1455.0 1057.8L1492.5 1059.3L1530.0 1060.6L1575.0 1062.9L1612.5 1064.0L1650.0 1064.9L1687.5 1065.5L1732.0 1065.9L1781.2 1066.1L1865.2 1066.2" stroke="#1CA9E9"/>
<path d="M1175.0 1043.1L1233.8 1043.1L1296.2 1042.3L1358.8 1040.8L1405.6 1038.4L1436.9 1036.1L1468.1 1035.0L1491.6 1034.5L1515.0 1035.4L1537.5 1036.6L1575.0 1039.1L1612.5 1041.5L1650.0 1042.8L1687.5 1044.1L1732.0 1045.2L1781.2 1046.0L1828.0 1046.2L1865.2 1046.0" stroke="#7FE5D4"/>
<path d="M1171.2 1032.2L1191.6 1035.0L1210.3 1042.3L1233.8 1051.7L1257.2 1058.0L1277.5 1061.1L1304.0 1061.9L1335.3 1061.6L1358.8 1059.0L1377.5 1055.3L1390.0 1050.2L1399.4 1043.1L1408.8 1035.6L1421.2 1031.9L1433.8 1031.1L1449.4 1032.2L1468.1 1034.2L1483.8 1034.8L1499.4 1033.0L1515.0 1026.8L1530.0 1019.6L1543.1 1015.2L1556.2 1016.0L1569.4 1021.2L1582.5 1030.6L1595.6 1040.0L1608.8 1048.1L1620.0 1052.2L1635.0 1053.1L1668.8 1053.7L1706.2 1054.4L1732.0 1054.6L1753.1 1054.1L1781.2 1051.6L1809.4 1048.1L1837.5 1045.2L1865.2 1043.8" stroke="#7FE5D4"/>
<path d="M236.9 1037.2L312.5 1044.7L387.5 1048.8L462.5 1051.2L537.5 1052.6L575.0 1052.9L593.8 1052.8L612.5 1051.6L640.0 1051.2L668.0 1049.8L696.2 1048.1L724.4 1046.6L752.5 1042.8L775.0 1040.0L795.6 1037.2L814.4 1032.1L835.0 1030.1L855.6 1031.6L876.2 1036.2L897.0 1040.0L917.5 1043.8L938.0 1046.0L958.8 1047.5L996.2 1048.1L1020.6 1050.3L1041.2 1053.7L1061.9 1052.8L1082.5 1049.4L1100.6 1042.8L1121.2 1035.9L1143.8 1029.7L1171.3 1025.4L1188.8 1024.4L1207.5 1024.2L1230.0 1025.6L1258.1 1028.2L1286.2 1030.6L1323.8 1033.8L1361.2 1036.2L1398.8 1038.1L1436.2 1040.0L1473.8 1041.9L1511.2 1043.4L1537.5 1043.8L1575.0 1044.5L1612.5 1044.1L1650.0 1043.4L1687.5 1042.6L1732.0 1042.1L1781.2 1041.0L1828.0 1039.7L1865.2 1038.7" stroke="#777777"/>
</g>
<path d="M156.8 556.9000000000001L170.10000000000002 570.2L156.8 583.5L143.5 570.2Z" fill="#3CA324" fill-opacity="0.4"/>
<path d="M156.8 550.4000000000001L176.60000000000002 570.2L156.8 590.0L137.0 570.2Z" fill="none" stroke="#3CA324" stroke-opacity="0.4" stroke-width="1.7"/>
<path d="M156.8 662.3000000000001L170.10000000000002 675.6L156.8 688.9L143.5 675.6Z" fill="#004098" fill-opacity="0.4"/>
<path d="M156.8 655.8000000000001L176.60000000000002 675.6L156.8 695.4L137.0 675.6Z" fill="none" stroke="#004098" stroke-opacity="0.4" stroke-width="1.7"/>
<path d="M156.8 852.1L170.10000000000002 865.4L156.8 878.6999999999999L143.5 865.4Z" fill="#FFB700" fill-opacity="0.4"/>
<path d="M156.8 845.6L176.60000000000002 865.4L156.8 885.1999999999999L137.0 865.4Z" fill="none" stroke="#FFB700" stroke-opacity="0.4" stroke-width="1.7"/>
<path d="M156.8 859.7L170.10000000000002 873.0L156.8 886.3L143.5 873.0Z" fill="#F55881" fill-opacity="0.4"/>
<path d="M156.8 853.2L176.60000000000002 873.0L156.8 892.8L137.0 873.0Z" fill="none" stroke="#F55881" stroke-opacity="0.4" stroke-width="1.7"/>
<path d="M156.8 888.5L170.10000000000002 901.8L156.8 915.0999999999999L143.5 901.8Z" fill="#B8CE43" fill-opacity="0.4"/>
<path d="M156.8 882.0L176.60000000000002 901.8L156.8 921.5999999999999L137.0 901.8Z" fill="none" stroke="#B8CE43" stroke-opacity="0.4" stroke-width="1.7"/>
<path d="M156.8 934.5L170.10000000000002 947.8L156.8 961.0999999999999L143.5 947.8Z" fill="#ED008C" fill-opacity="0.4"/>
<path d="M156.8 928.0L176.60000000000002 947.8L156.8 967.5999999999999L137.0 947.8Z" fill="none" stroke="#ED008C" stroke-opacity="0.4" stroke-width="1.7"/>
<path d="M156.8 949.8000000000001L170.10000000000002 963.1L156.8 976.4L143.5 963.1Z" fill="#DB001C" fill-opacity="0.4"/>
<path d="M156.8 943.3000000000001L176.60000000000002 963.1L156.8 982.9L137.0 963.1Z" fill="none" stroke="#DB001C" stroke-opacity="0.4" stroke-width="1.7"/>
<path d="M156.8 1003.5L170.10000000000002 1016.8L156.8 1030.1L143.5 1016.8Z" fill="#EE7300" fill-opacity="0.4"/>
<path d="M156.8 997.0L176.60000000000002 1016.8L156.8 1036.6L137.0 1016.8Z" fill="none" stroke="#EE7300" stroke-opacity="0.4" stroke-width="1.7"/>
<path d="M156.8 1028.4L170.10000000000002 1041.7L156.8 1055.0L143.5 1041.7Z" fill="#0A82DC" fill-opacity="0.4"/>
<path d="M156.8 1021.9000000000001L176.60000000000002 1041.7L156.8 1061.5L137.0 1041.7Z" fill="none" stroke="#0A82DC" stroke-opacity="0.4" stroke-width="1.7"/>
<path d="M156.8 1036.1000000000001L170.10000000000002 1049.4L156.8 1062.7L143.5 1049.4Z" fill="#1CA9E9" fill-opacity="0.4"/>
<path d="M156.8 1029.6000000000001L176.60000000000002 1049.4L156.8 1069.2L137.0 1049.4Z" fill="none" stroke="#1CA9E9" stroke-opacity="0.4" stroke-width="1.7"/>
<path d="M156.8 1068.7L170.10000000000002 1082.0L156.8 1095.3L143.5 1082.0Z" fill="#777777" fill-opacity="0.4"/>
<path d="M156.8 1062.2L176.60000000000002 1082.0L156.8 1101.8L137.0 1082.0Z" fill="none" stroke="#777777" stroke-opacity="0.4" stroke-width="1.7"/>
<path d="M1171.2 654.6L1184.5 667.9L1171.2 681.1999999999999L1157.9 667.9Z" fill="#3CA324" fill-opacity="0.4"/>
<path d="M1171.2 648.1L1191.0 667.9L1171.2 687.6999999999999L1151.4 667.9Z" fill="none" stroke="#3CA324" stroke-opacity="0.4" stroke-width="1.7"/>
<path d="M1171.2 829.1L1184.5 842.4L1171.2 855.6999999999999L1157.9 842.4Z" fill="#004098" fill-opacity="0.4"/>
<path d="M1171.2 822.6L1191.0 842.4L1171.2 862.1999999999999L1151.4 842.4Z" fill="none" stroke="#004098" stroke-opacity="0.4" stroke-width="1.7"/>
<path d="M1171.2 821.4000000000001L1184.5 834.7L1171.2 848.0L1157.9 834.7Z" fill="#FFB700" fill-opacity="0.4"/>
<path d="M1171.2 814.9000000000001L1191.0 834.7L1171.2 854.5L1151.4 834.7Z" fill="none" stroke="#FFB700" stroke-opacity="0.4" stroke-width="1.7"/>
<path d="M1171.2 900.0L1184.5 913.3L1171.2 926.5999999999999L1157.9 913.3Z" fill="#F55881" fill-opacity="0.4"/>
<path d="M1171.2 893.5L1191.0 913.3L1171.2 933.0999999999999L1151.4 913.3Z" fill="none" stroke="#F55881" stroke-opacity="0.4" stroke-width="1.7"/>
<path d="M1171.2 926.8000000000001L1184.5 940.1L1171.2 953.4L1157.9 940.1Z" fill="#B8CE43" fill-opacity="0.4"/>
<path d="M1171.2 920.3000000000001L1191.0 940.1L1171.2 959.9L1151.4 940.1Z" fill="none" stroke="#B8CE43" stroke-opacity="0.4" stroke-width="1.7"/>
<path d="M1171.2 942.2L1184.5 955.5L1171.2 968.8L1157.9 955.5Z" fill="#ED008C" fill-opacity="0.4"/>
<path d="M1171.2 935.7L1191.0 955.5L1171.2 975.3L1151.4 955.5Z" fill="none" stroke="#ED008C" stroke-opacity="0.4" stroke-width="1.7"/>
<path d="M1171.2 976.7L1184.5 990.0L1171.2 1003.3L1157.9 990.0Z" fill="#DB001C" fill-opacity="0.4"/>
<path d="M1171.2 970.2L1191.0 990.0L1171.2 1009.8L1151.4 990.0Z" fill="none" stroke="#DB001C" stroke-opacity="0.4" stroke-width="1.7"/>
<path d="M1171.2 829.1L1184.5 842.4L1171.2 855.6999999999999L1157.9 842.4Z" fill="#EE7300" fill-opacity="0.4"/>
<path d="M1171.2 822.6L1191.0 842.4L1171.2 862.1999999999999L1151.4 842.4Z" fill="none" stroke="#EE7300" stroke-opacity="0.4" stroke-width="1.7"/>
<path d="M1171.2 972.8000000000001L1184.5 986.1L1171.2 999.4L1157.9 986.1Z" fill="#0A82DC" fill-opacity="0.4"/>
<path d="M1171.2 966.3000000000001L1191.0 986.1L1171.2 1005.9L1151.4 986.1Z" fill="none" stroke="#0A82DC" stroke-opacity="0.4" stroke-width="1.7"/>
<path d="M1171.2 1028.4L1184.5 1041.7L1171.2 1055.0L1157.9 1041.7Z" fill="#1CA9E9" fill-opacity="0.4"/>
<path d="M1171.2 1021.9000000000001L1191.0 1041.7L1171.2 1061.5L1151.4 1041.7Z" fill="none" stroke="#1CA9E9" stroke-opacity="0.4" stroke-width="1.7"/>
<path d="M1171.2 1018.9000000000001L1184.5 1032.2L1171.2 1045.5L1157.9 1032.2Z" fill="#7FE5D4" fill-opacity="0.4"/>
<path d="M1171.2 1012.4000000000001L1191.0 1032.2L1171.2 1052.0L1151.4 1032.2Z" fill="none" stroke="#7FE5D4" stroke-opacity="0.4" stroke-width="1.7"/>
<path d="M1171.2 1007.4000000000001L1184.5 1020.7L1171.2 1034.0L1157.9 1020.7Z" fill="#777777" fill-opacity="0.4"/>
<path d="M1171.2 1000.9000000000001L1191.0 1020.7L1171.2 1040.5L1151.4 1020.7Z" fill="none" stroke="#777777" stroke-opacity="0.4" stroke-width="1.7"/>
<text transform="translate(1174.7 123.4) rotate(90) scale(1 1.06)" font-size="25.7" fill="#000">HoC</text>
<text x="67.3" y="35.1" font-size="31.25" fill="#000">Voting Intention for the 2026 Japanese General Election (Excluding No Party and Undecided)</text>
<text x="2141" y="35.5" font-size="31.25" fill="#000">7 Day Average</text>
<text x="2141" y="82.3" font-size="31.25" font-style="italic" fill="#000">(2024 Result)</text>
<g font-size="20.8" fill="#4d4d4d" text-anchor="end">
<text x="55.5" y="1089.4">0%</text>
<text x="55.5" y="993.5">5%</text>
<text x="55.5" y="897.7">10%</text>
<text x="55.5" y="801.9">15%</text>
<text x="55.5" y="706.0">20%</text>
<text x="55.5" y="610.1">25%</text>
<text x="55.5" y="514.3">30%</text>
<text x="55.5" y="418.4">35%</text>
<text x="55.5" y="322.6">40%</text>
<text x="55.5" y="226.7">45%</text>
<text x="55.5" y="130.9">50%</text>
</g>
<g font-size="20.8" fill="#4d4d4d">
<text transform="translate(126.2 1143.3) rotate(90)">21 Oct 2024</text>
<text transform="translate(206.3 1143.3) rotate(90)">11 Nov 2024</text>
<text transform="translate(286.4 1143.3) rotate(90)">02 Dec 2024</text>
<text transform="translate(366.5 1143.3) rotate(90)">23 Dec 2024</text>
<text transform="translate(446.6 1143.3) rotate(90)">13 Jan 2025</text>
<text transform="translate(526.7 1143.3) rotate(90)">03 Feb 2025</text>
<text transform="translate(606.8 1143.3) rotate(90)">24 Feb 2025</text>
<text transform="translate(686.9 1143.3) rotate(90)">17 Mar 2025</text>
<text transform="translate(767.0 1143.3) rotate(90)">07 Apr 2025</text>
<text transform="translate(847.1 1143.3) rotate(90)">28 Apr 2025</text>
<text transform="translate(927.1 1143.3) rotate(90)">19 May 2025</text>
<text transform="translate(1007.2 1143.3) rotate(90)">09 Jun 2025</text>
<text transform="translate(1087.3 1143.3) rotate(90)">30 Jun 2025</text>
<text transform="translate(1167.4 1143.3) rotate(90)">21 Jul 2025</text>
<text transform="translate(1247.5 1143.3) rotate(90)">11 Aug 2025</text>
<text transform="translate(1327.6 1143.3) rotate(90)">01 Sep 2025</text>
<text transform="translate(1407.7 1143.3) rotate(90)">22 Sep 2025</text>
<text transform="translate(1487.8 1143.3) rotate(90)">13 Oct 2025</text>
<text transform="translate(1567.9 1143.3) rotate(90)">03 Nov 2025</text>
<text transform="translate(1648.0 1143.3) rotate(90)">24 Nov 2025</text>
<text transform="translate(1728.1 1143.3) rotate(90)">15 Dec 2025</text>
<text transform="translate(1808.2 1143.3) rotate(90)">05 Jan 2026</text>
<text transform="translate(1888.3 1143.3) rotate(90)">26 Jan 2026</text>
<text transform="translate(1968.4 1143.3) rotate(90)">16 Feb 2026</text>
</g>
<rect x="2159.7" y="114.75" width="369.1" height="39.45" fill="#3CA324"/>
<rect x="2159.7" y="154.20" width="242.4" height="39.45" fill="#77c068"/>
<text x="2129.4" y="161.7" font-size="20.8" fill="#4d4d4d" text-anchor="end">LDP</text>
<text x="2159.7" y="143.2" font-size="23.6" fill="#000">40.6%</text>
<text x="2159.7" y="182.6" font-size="23.6" font-style="italic" fill="#000">( 26.7% )</text>
<rect x="2159.7" y="202.55" width="138.0" height="39.45" fill="#0072BC"/>
<text x="2129.4" y="249.5" font-size="20.8" fill="#4d4d4d" text-anchor="end">CRA</text>
<text x="2159.7" y="231.0" font-size="23.6" fill="#000">15.2%</text>
<text x="2159.7" y="270.4" font-size="23.6" font-style="italic" fill="#000">(CDP-KMT Merger)</text>
<rect x="2159.7" y="290.35" width="99.4" height="39.45" fill="#FFB700"/>
<rect x="2159.7" y="329.80" width="102.6" height="39.45" fill="#FFB700" fill-opacity="0.6"/>
<text x="2129.4" y="337.3" font-size="20.8" fill="#4d4d4d" text-anchor="end">DPFP</text>
<text x="2159.7" y="318.8" font-size="23.6" fill="#000">10.9%</text>
<text x="2159.7" y="358.2" font-size="23.6" font-style="italic" fill="#000">( 11.3% )</text>
<rect x="2159.7" y="378.15" width="80.2" height="39.45" fill="#B8CE43"/>
<rect x="2159.7" y="417.60" width="85.4" height="39.45" fill="#B8CE43" fill-opacity="0.6"/>
<text x="2129.4" y="425.1" font-size="20.8" fill="#4d4d4d" text-anchor="end">NIK</text>
<text x="2159.7" y="406.6" font-size="23.6" fill="#000">8.8%</text>
<text x="2159.7" y="446.0" font-size="23.6" font-style="italic" fill="#000">( 9.4% )</text>
<rect x="2159.7" y="465.95" width="71.2" height="39.45" fill="#EE7300"/>
<rect x="2159.7" y="505.40" width="30.9" height="39.45" fill="#EE7300" fill-opacity="0.6"/>
<text x="2129.4" y="512.9" font-size="20.8" fill="#4d4d4d" text-anchor="end">DIY</text>
<text x="2159.7" y="494.4" font-size="23.6" fill="#000">7.8%</text>
<text x="2159.7" y="533.8" font-size="23.6" font-style="italic" fill="#000">( 3.4% )</text>
<rect x="2159.7" y="553.75" width="40.5" height="39.45" fill="#DB001C"/>
<rect x="2159.7" y="593.20" width="56.3" height="39.45" fill="#DB001C" fill-opacity="0.6"/>
<text x="2129.4" y="600.7" font-size="20.8" fill="#4d4d4d" text-anchor="end">JCP</text>
<text x="2159.7" y="582.2" font-size="23.6" fill="#000">4.4%</text>
<text x="2159.7" y="621.6" font-size="23.6" font-style="italic" fill="#000">( 6.2% )</text>
<rect x="2159.7" y="641.55" width="39.1" height="39.45" fill="#ED008C"/>
<rect x="2159.7" y="681.00" width="63.6" height="39.45" fill="#ED008C" fill-opacity="0.6"/>
<text x="2129.4" y="688.5" font-size="20.8" fill="#4d4d4d" text-anchor="end">REI</text>
<text x="2159.7" y="670.0" font-size="23.6" fill="#000">4.2%</text>
<text x="2159.7" y="709.4" font-size="23.6" font-style="italic" fill="#000">( 7.0% )</text>
<rect x="2159.7" y="729.35" width="20.2" height="39.45" fill="#777777"/>
<text x="2129.4" y="776.3" font-size="20.8" fill="#4d4d4d" text-anchor="end">Others</text>
<text x="2159.7" y="757.8" font-size="23.6" fill="#000">2.2%</text>
<text x="2159.7" y="797.2" font-size="23.6" font-style="italic" fill="#000">( 0.0% )</text>
<rect x="2159.7" y="817.15" width="20.2" height="39.45" fill="#0A82DC"/>
<rect x="2159.7" y="856.60" width="19.1" height="39.45" fill="#0A82DC" fill-opacity="0.6"/>
<text x="2129.4" y="864.1" font-size="20.8" fill="#4d4d4d" text-anchor="end">CPJ</text>
<text x="2159.7" y="845.6" font-size="23.6" fill="#000">2.2%</text>
<text x="2159.7" y="885.0" font-size="23.6" font-style="italic" fill="#000">( 2.1% )</text>
<rect x="2159.7" y="904.95" width="18.3" height="39.45" fill="#7FE5D4"/>
<text x="2129.4" y="951.9" font-size="20.8" fill="#4d4d4d" text-anchor="end">Mirai</text>
<text x="2159.7" y="933.4" font-size="23.6" fill="#000">1.9%</text>
<text x="2159.7" y="972.8" font-size="23.6" font-style="italic" fill="#000">(New)</text>
<rect x="2159.7" y="992.75" width="8.7" height="39.45" fill="#1CA9E9"/>
<rect x="2159.7" y="1032.20" width="15.4" height="39.45" fill="#1CA9E9" fill-opacity="0.6"/>
<text x="2129.4" y="1039.7" font-size="20.8" fill="#4d4d4d" text-anchor="end">SDP</text>
<text x="2159.7" y="1021.2" font-size="23.6" fill="#000">0.9%</text>
<text x="2159.7" y="1060.6" font-size="23.6" font-style="italic" fill="#000">( 1.7% )</text>
<rect x="2159.7" y="1120.00" width="99.0" height="39.45" fill="#F55881" fill-opacity="0.6"/>
<text x="2129.4" y="1127.5" font-size="20.8" fill="#4d4d4d" text-anchor="end">KMT</text>
<text x="2159.7" y="1109.0" font-size="23.6" fill="#000">(Part of CRA)</text>
<text x="2159.7" y="1148.4" font-size="23.6" font-style="italic" fill="#000">( 10.9% )</text>
<rect x="2159.7" y="1207.80" width="192.5" height="39.45" fill="#7490ba"/>
<text x="2129.4" y="1215.3" font-size="20.8" fill="#4d4d4d" text-anchor="end">CDP</text>
<text x="2159.7" y="1196.8" font-size="23.6" fill="#000">(Part of CRA)</text>
<text x="2159.7" y="1236.2" font-size="23.6" font-style="italic" fill="#000">( 21.2% )</text>
</svg>
</body></html>
